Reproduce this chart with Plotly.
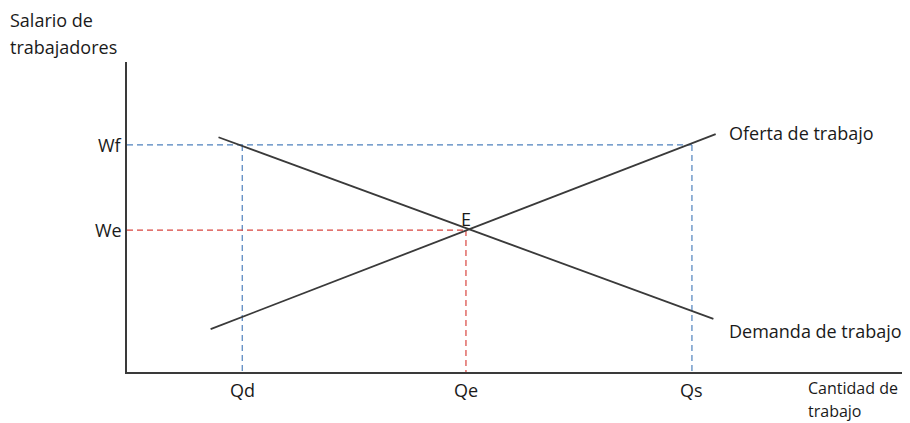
import plotly.graph_objects as go

#@ Values (quantity units, wage units)
q_labels = ['Qd', 'Qe', 'Qs']
q_values = [1.02, 3.0, 5.0]
w_labels = ['Wf', 'We']
w_values = [8.0, 5.0]

demand_q = [0.81, 5.19]
demand_w = [8.27, 1.87]
supply_q = [0.74, 5.21]
supply_w = [1.51, 8.38]

qd, qe, qs = q_values
wf, we = w_values

FONT = 'Open Sans'
TXT = '#1a1a1a'
BLUE = '#4f81bd'
RED = '#d9443f'
LINE = '#3a3a3a'
FS = 18

fig = go.Figure()

#$ Dashed guide lines
blue = dict(color=BLUE, width=1.2, dash='6px,4px')
red = dict(color=RED, width=1.2, dash='6px,4px')
fig.add_trace(go.Scatter(x=[0, qs], y=[wf, wf], mode='lines', line=blue))
fig.add_trace(go.Scatter(x=[qd, qd], y=[wf, 0], mode='lines', line=blue))
fig.add_trace(go.Scatter(x=[qs, qs], y=[wf, 0], mode='lines', line=blue))
fig.add_trace(go.Scatter(x=[0, qe], y=[we, we], mode='lines', line=red))
fig.add_trace(go.Scatter(x=[qe, qe], y=[we, 0], mode='lines', line=red))

#$ Supply and demand curves
fig.add_trace(go.Scatter(x=demand_q, y=demand_w, mode='lines',
                         line=dict(color=LINE, width=1.8)))
fig.add_trace(go.Scatter(x=supply_q, y=supply_w, mode='lines',
                         line=dict(color=LINE, width=1.8)))

#@ Labels in data coordinates
notes = []
for lab, q in zip(q_labels, q_values):
    notes.append(dict(x=q, y=0, text=lab, yshift=-18))
for lab, w in zip(w_labels, w_values):
    notes.append(dict(x=0, y=w, text=lab, xanchor='right', xshift=-3))
notes += [
    dict(x=qe, y=we, text='E', yshift=11),
    dict(x=5.31, y=8.42, text='Oferta de trabajo', xanchor='left'),
    dict(x=5.31, y=1.44, text='Demanda de trabajo', xanchor='left'),
    dict(x=6.01, y=0, text='Cantidad de', xanchor='left', yshift=-16, size=16),
    dict(x=6.01, y=0, text='trabajo', xanchor='left', yshift=-39, size=16),
]
for n in notes:
    n.setdefault('xanchor', 'center')
    size = n.pop('size', FS)
    fig.add_annotation(xref='x', yref='y', showarrow=False, yanchor='middle',
                       font=dict(family=FONT, size=size, color=TXT), **n)

#@ Y axis title (outside the plot area, so paper coordinates)
for txt, yp in [('Salario de', 1.135), ('trabajadores', 1.048)]:
    fig.add_annotation(xref='paper', yref='paper', x=-0.152, y=yp, text=txt,
                       showarrow=False, xanchor='left', yanchor='middle',
                       font=dict(family=FONT, size=FS, color=TXT))

#! page body has an 8px margin, so the figure is shrunk by that much
fig.update_layout(
    width=902, height=415,
    margin=dict(l=119, r=0, t=54, b=51),
    plot_bgcolor='white', paper_bgcolor='white',
    showlegend=False,
    xaxis=dict(range=[0, 6.93], showgrid=False, zeroline=False, showticklabels=False,
               ticks='', showline=True, linecolor=LINE, linewidth=2),
    yaxis=dict(range=[0, 10.92], showgrid=False, zeroline=False, showticklabels=False,
               ticks='', showline=True, linecolor=LINE, linewidth=2),
)

fig.write_html('out.html')
